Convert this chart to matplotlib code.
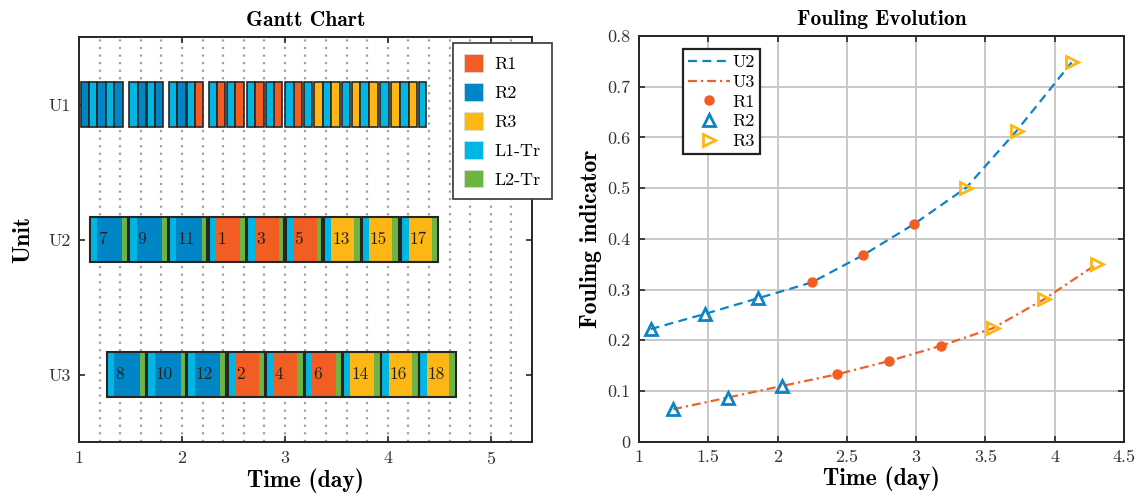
import numpy as np
import matplotlib
matplotlib.use('Agg')
import matplotlib.pyplot as plt
from matplotlib.patches import Rectangle, Patch

# ---------- style ----------
plt.rcParams['font.family'] = 'cmr10'
plt.rcParams['mathtext.fontset'] = 'cm'
plt.rcParams['axes.formatter.use_mathtext'] = True
plt.rcParams['xtick.labelsize'] = 13
plt.rcParams['ytick.labelsize'] = 13

colors = {'R1': '#F15D22', 'R2': '#0085C7', 'R3': '#FDB714',
          'L1': '#00B6E3', 'L2': '#6DB543'}
dark = '#262626'

# ---------- Gantt data ----------
# U1: short bars (start, end, type)
u1_start = [1.019, 1.097, 1.175, 1.259, 1.343, 1.488, 1.569, 1.663, 1.737,
            1.876, 1.954, 2.051, 2.125, 2.264, 2.342, 2.442, 2.520, 2.633,
            2.714, 2.814, 2.895, 3.005, 3.086, 3.186, 3.283, 3.370, 3.451,
            3.554, 3.651, 3.732, 3.816, 3.925, 4.033, 4.117, 4.201, 4.298]
u1_end = [1.097, 1.175, 1.259, 1.343, 1.430, 1.569, 1.650, 1.737, 1.818,
          1.954, 2.038, 2.125, 2.206, 2.342, 2.419, 2.520, 2.600, 2.714,
          2.794, 2.895, 2.975, 3.086, 3.166, 3.263, 3.370, 3.451, 3.538,
          3.635, 3.732, 3.816, 3.903, 4.007, 4.117, 4.201, 4.285, 4.372]
u1_type = ['R2', 'L1', 'R2', 'L1', 'R2', 'L1', 'R2', 'L1', 'R2',
           'L1', 'R2', 'L1', 'R1', 'L1', 'R1', 'L1', 'R1', 'L1',
           'R1', 'L1', 'R1', 'L1', 'R1', 'L1', 'R3', 'L1', 'R3',
           'L1', 'R3', 'L1', 'R3', 'L1', 'R3', 'L1', 'R3', 'L1']

# U2 / U3 batches: L1-Tr start, reaction start, L2-Tr start, end
u2_l1 = [1.107, 1.488, 1.876, 2.264, 2.636, 3.008, 3.380, 3.748, 4.123]
u2_rx = [1.178, 1.559, 1.947, 2.335, 2.707, 3.079, 3.451, 3.816, 4.204]
u2_l2 = [1.420, 1.808, 2.190, 2.568, 2.940, 3.312, 3.671, 4.042, 4.430]
u2_end = [1.478, 1.860, 2.248, 2.620, 2.992, 3.364, 3.735, 4.107, 4.485]
u2_recipe = ['R2', 'R2', 'R2', 'R1', 'R1', 'R1', 'R3', 'R3', 'R3']
u2_labels = ['7', '9', '11', '1', '3', '5', '13', '15', '17']

u3_l1 = [1.268, 1.657, 2.051, 2.448, 2.820, 3.192, 3.564, 3.935, 4.307]
u3_rx = [1.339, 1.737, 2.125, 2.520, 2.891, 3.263, 3.635, 4.007, 4.378]
u3_l2 = [1.592, 1.986, 2.374, 2.749, 3.118, 3.493, 3.861, 4.233, 4.598]
u3_end = [1.650, 2.038, 2.432, 2.811, 3.183, 3.555, 3.929, 4.299, 4.663]
u3_recipe = ['R2', 'R2', 'R2', 'R1', 'R1', 'R1', 'R3', 'R3', 'R3']
u3_labels = ['8', '10', '12', '2', '4', '6', '14', '16', '18']

# ---------- Fouling data ----------
u2_t = [1.084, 1.476, 1.861, 2.246, 2.618, 2.984, 3.362, 3.725, 4.122]
u2_f = [0.222, 0.252, 0.283, 0.314, 0.368, 0.429, 0.501, 0.613, 0.748]
u3_t = [1.247, 1.640, 2.034, 2.431, 2.804, 3.177, 3.556, 3.924, 4.302]
u3_f = [0.064, 0.087, 0.110, 0.133, 0.159, 0.189, 0.224, 0.281, 0.350]
regime = ['R2', 'R2', 'R2', 'R1', 'R1', 'R1', 'R3', 'R3', 'R3']

fig = plt.figure(figsize=(11.43, 5.01), dpi=100)
ax1 = fig.add_axes([79/1143, 59/501, 453/1143, 405/501])
ax2 = fig.add_axes([639/1143, 59.3/501, 485/1143, 405.7/501])

# ---------- Gantt chart ----------
h = 0.33
for x in np.arange(1.2, 5.3, 0.2):
    ax1.axvline(x, color='#A0A0A0', lw=1.6, ls=(0, (1, 2.4)), zorder=0)

for s, e, t in zip(u1_start, u1_end, u1_type):
    ax1.add_patch(Rectangle((s, 1 - h/2), e - s, h, facecolor=colors[t],
                            edgecolor=dark, lw=1.2, zorder=2))

def draw_unit(y, l1, rx, l2, end, recipe, labels):
    for a, b, c, d, r, lab in zip(l1, rx, l2, end, recipe, labels):
        ax1.add_patch(Rectangle((a, y - h/2), b - a, h, facecolor=colors['L1'],
                                edgecolor='none', zorder=2))
        ax1.add_patch(Rectangle((b, y - h/2), c - b, h, facecolor=colors[r],
                                edgecolor='none', zorder=2))
        ax1.add_patch(Rectangle((c, y - h/2), d - c, h, facecolor=colors['L2'],
                                edgecolor='none', zorder=2))
        ax1.add_patch(Rectangle((a, y - h/2), d - a, h, facecolor='none',
                                edgecolor=dark, lw=1.5, zorder=3))
        ax1.text(b + 0.01, y, lab, ha='left', va='center', fontsize=12.5,
                 color='#222222', zorder=4)

draw_unit(2, u2_l1, u2_rx, u2_l2, u2_end, u2_recipe, u2_labels)
draw_unit(3, u3_l1, u3_rx, u3_l2, u3_end, u3_recipe, u3_labels)

ax1.set_xlim(1, 5.4)
ax1.set_ylim(3.5, 0.5)
ax1.set_xticks([1, 2, 3, 4, 5])
ax1.set_yticks([1, 2, 3])
ax1.set_yticklabels(['U1', 'U2', 'U3'])
ax1.set_title('Gantt Chart', fontname='cmb10', fontsize=15.5, pad=8)
ax1.set_xlabel('Time (day)', fontname='cmb10', fontsize=17, labelpad=1)
ax1.set_ylabel('Unit', fontname='cmb10', fontsize=17, labelpad=10)

leg_items = [('R1', 'R1'), ('R2', 'R2'), ('R3', 'R3'), ('L1', 'L1-Tr'), ('L2', 'L2-Tr')]
handles = [Patch(facecolor=colors[k], edgecolor='#dddddd', lw=0.5, label=lab)
           for k, lab in leg_items]
leg1 = ax1.legend(handles=handles, loc='upper left', bbox_to_anchor=(0.825, 0.986),
                  borderaxespad=0, fancybox=False, framealpha=1, edgecolor='#444444',
                  fontsize=13, handlelength=1.05, handleheight=1.15, handletextpad=0.65,
                  labelspacing=0.6, borderpad=0.62)
leg1.get_frame().set_linewidth(1.3)

# ---------- Fouling evolution ----------
ax2.plot(u2_t, u2_f, ls=(0, (4, 2.5)), color='#0A84C6', lw=1.6, label='U2', zorder=3)
ax2.plot(u3_t, u3_f, ls=(0, (4, 1.8, 1, 1.8)), color='#F0602A', lw=1.6, label='U3', zorder=3)

mk = {'R1': dict(marker='o', ms=6.5, mfc=colors['R1'], mec=colors['R1'], mew=1.0),
      'R2': dict(marker='^', ms=8.5, mfc='none', mec='#0A84C6', mew=2.0),
      'R3': dict(marker='>', ms=8.5, mfc='none', mec=colors['R3'], mew=2.0)}
for r in ['R1', 'R2', 'R3']:
    xs = [t for t, g in zip(u2_t, regime) if g == r] + [t for t, g in zip(u3_t, regime) if g == r]
    ys = [f for f, g in zip(u2_f, regime) if g == r] + [f for f, g in zip(u3_f, regime) if g == r]
    ax2.plot(xs, ys, ls='none', label=r, zorder=4, **mk[r])

ax2.set_xlim(1, 4.5)
ax2.set_ylim(0, 0.8)
ax2.set_xticks(np.arange(1, 4.51, 0.5))
ax2.set_xticklabels(['1', '1.5', '2', '2.5', '3', '3.5', '4', '4.5'])
ax2.set_yticks(np.arange(0, 0.81, 0.1))
ax2.set_yticklabels(['0', '0.1', '0.2', '0.3', '0.4', '0.5', '0.6', '0.7', '0.8'])
ax2.grid(True, color='#C8C8C8', lw=1.4, zorder=0)
ax2.set_axisbelow(True)
ax2.set_title('Fouling Evolution', fontname='cmb10', fontsize=15.5, pad=8)
ax2.set_xlabel('Time (day)', fontname='cmb10', fontsize=17, labelpad=1)
ax2.set_ylabel('Fouling indicator', fontname='cmb10', fontsize=17, labelpad=4)
leg2 = ax2.legend(loc='upper left', bbox_to_anchor=(0.090, 0.967), borderaxespad=0,
                  fancybox=False, framealpha=1, edgecolor='#222222', fontsize=13,
                  handlelength=2.3, handletextpad=0.15, labelspacing=0.22, borderpad=0.3)
leg2.get_frame().set_linewidth(1.6)

for ax in (ax1, ax2):
    for sp in ax.spines.values():
        sp.set_color(dark)
        sp.set_linewidth(1.4)
    ax.tick_params(direction='in', length=4, width=1.2, color=dark,
                   top=True, right=True, pad=6, labelcolor='#333333')

fig.savefig('out.png', dpi=100)
